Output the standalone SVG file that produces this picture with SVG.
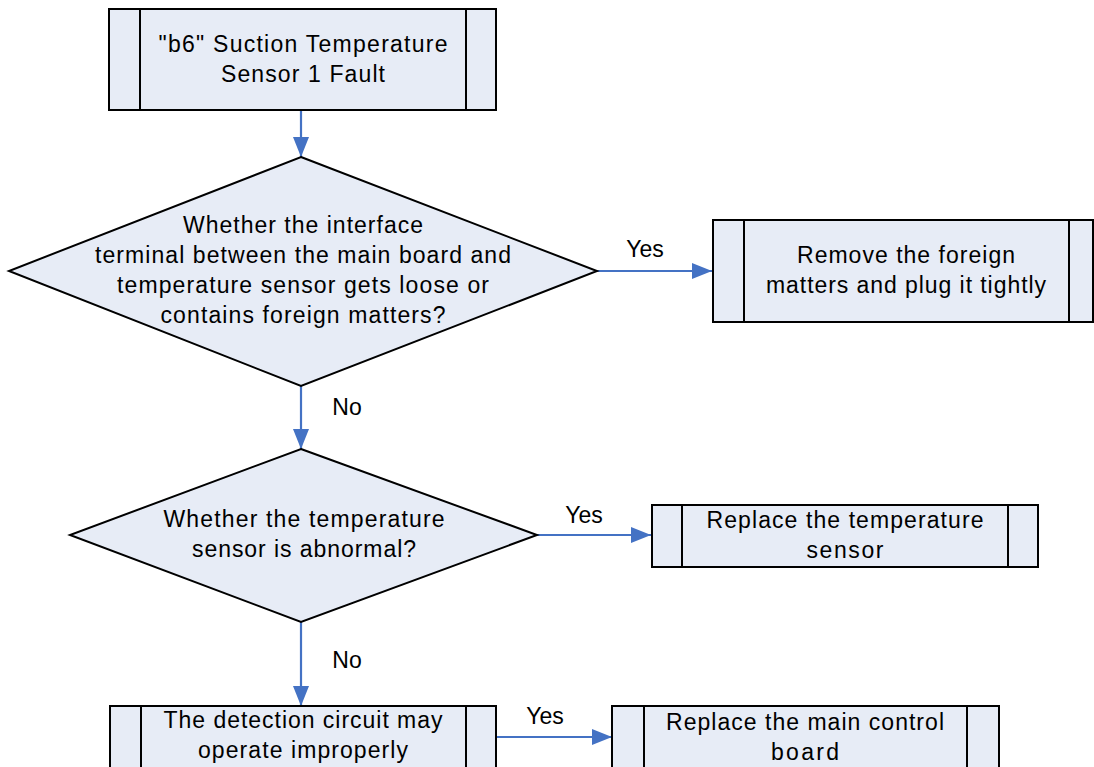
<svg xmlns="http://www.w3.org/2000/svg" width="1094" height="767" viewBox="0 0 1094 767">
<style>
.shape{fill:#E7ECF6;stroke:#000;stroke-width:2}
.div{stroke:#000;stroke-width:2}
.conn{stroke:#4472C4;stroke-width:2.2;fill:none}
text{font-family:"Liberation Sans",Arial,sans-serif;font-size:23px;fill:#000;text-anchor:middle}
</style>
<defs>
<marker id="ah" markerUnits="userSpaceOnUse" markerWidth="20" markerHeight="16" refX="20" refY="8" orient="auto">
<path d="M0,0 L20,8 L0,16 z" fill="#4472C4"/>
</marker>
</defs>
<rect width="1094" height="767" fill="#fff"/>
<g id="connectors">
<line class="conn" x1="301" y1="110" x2="301" y2="157" marker-end="url(#ah)"/>
<line class="conn" x1="597" y1="271" x2="712" y2="271" marker-end="url(#ah)"/>
<line class="conn" x1="301" y1="386" x2="301" y2="449" marker-end="url(#ah)"/>
<line class="conn" x1="537" y1="535" x2="651" y2="535" marker-end="url(#ah)"/>
<line class="conn" x1="301" y1="622" x2="301" y2="706" marker-end="url(#ah)"/>
<line class="conn" x1="496" y1="737" x2="612" y2="737" marker-end="url(#ah)"/>
<text x="645" y="257">Yes</text>
<text x="347" y="415">No</text>
<text x="584" y="523">Yes</text>
<text x="347" y="668">No</text>
<text x="545" y="724">Yes</text>
</g>
<g id="start">
<rect class="shape" x="109" y="9" width="387" height="101"/>
<line class="div" x1="140" y1="9" x2="140" y2="110"/>
<line class="div" x1="466" y1="9" x2="466" y2="110"/>
<text x="303" y="52" textLength="289" lengthAdjust="spacing">"b6" Suction Temperature</text>
<text x="303" y="82" textLength="164" lengthAdjust="spacing">Sensor 1 Fault</text>
</g>
<g id="decision1">
<polygon class="shape" points="301,157 597,271 301,386 9,271"/>
<text x="303" y="233" textLength="240" lengthAdjust="spacing">Whether the interface</text>
<text x="303" y="263" textLength="416" lengthAdjust="spacing">terminal between the main board and</text>
<text x="303" y="293" textLength="372" lengthAdjust="spacing">temperature sensor gets loose or</text>
<text x="303" y="323" textLength="285" lengthAdjust="spacing">contains foreign matters?</text>
</g>
<g id="remove">
<rect class="shape" x="713" y="220" width="380" height="102"/>
<line class="div" x1="744" y1="220" x2="744" y2="322"/>
<line class="div" x1="1069" y1="220" x2="1069" y2="322"/>
<text x="906" y="263" textLength="218" lengthAdjust="spacing">Remove the foreign</text>
<text x="906" y="293" textLength="280" lengthAdjust="spacing">matters and plug it tightly</text>
</g>
<g id="decision2">
<polygon class="shape" points="301,449 537,535 301,622 70,535"/>
<text x="304" y="527" textLength="281" lengthAdjust="spacing">Whether the temperature</text>
<text x="304" y="557" textLength="224" lengthAdjust="spacing">sensor is abnormal?</text>
</g>
<g id="replaceSensor">
<rect class="shape" x="652" y="505" width="386" height="62"/>
<line class="div" x1="682" y1="505" x2="682" y2="567"/>
<line class="div" x1="1008" y1="505" x2="1008" y2="567"/>
<text x="845" y="528" textLength="277" lengthAdjust="spacing">Replace the temperature</text>
<text x="845" y="558" textLength="77" lengthAdjust="spacing">sensor</text>
</g>
<g id="detection">
<rect class="shape" x="110" y="706" width="386" height="80"/>
<line class="div" x1="141" y1="706" x2="141" y2="786"/>
<line class="div" x1="466" y1="706" x2="466" y2="786"/>
<text x="303" y="728" textLength="279" lengthAdjust="spacing">The detection circuit may</text>
<text x="303" y="758" textLength="210" lengthAdjust="spacing">operate improperly</text>
</g>
<g id="replaceBoard">
<rect class="shape" x="612" y="706" width="387" height="80"/>
<line class="div" x1="644" y1="706" x2="644" y2="786"/>
<line class="div" x1="967" y1="706" x2="967" y2="786"/>
<text x="805" y="730" textLength="278" lengthAdjust="spacing">Replace the main control</text>
<text x="805" y="760" textLength="68" lengthAdjust="spacing">board</text>
</g>
</svg>
